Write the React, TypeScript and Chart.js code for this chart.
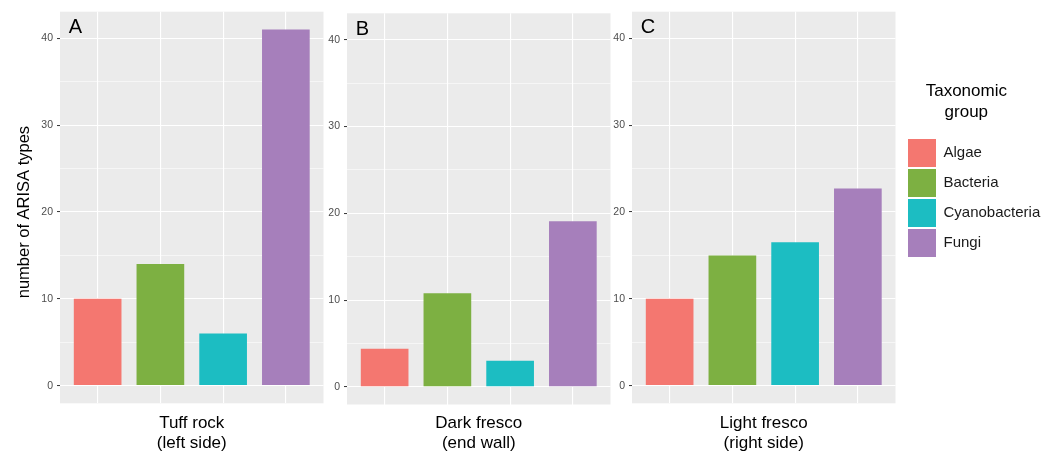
import React, { useEffect, useRef } from 'react';
import { Chart, registerables } from 'chart.js';

Chart.register(...registerables);

// ---------- data ----------
const groups = ['Algae', 'Bacteria', 'Cyanobacteria', 'Fungi'];
const groupColors = ['#F47770', '#7DB042', '#1CBDC2', '#A67FBB'];
const panelLetters = ['A', 'B', 'C'];
const siteLabels = [
  ['Tuff rock', '(left side)'],
  ['Dark fresco', '(end wall)'],
  ['Light fresco', '(right side)'],
];
const tuffRock = [10, 14, 6, 41];
const darkFresco = [4.4, 10.8, 3, 19.1];
const lightFresco = [10, 15, 16.5, 22.7];
const yMajorTicks = [0, 10, 20, 30, 40];
const yMinorTicks = [5, 15, 25, 35];
const yTitle = 'number of ARISA types';
const legendTitle = ['Taxonomic', 'group'];

const FONT = "'Liberation Sans', Arial, Helvetica, sans-serif";

const panelBg = {
  id: 'panelBg',
  beforeDraw(chart: any) {
    const { ctx, chartArea: a } = chart;
    ctx.save();
    ctx.fillStyle = '#EBEBEB';
    ctx.fillRect(a.left, a.top, a.right - a.left, a.bottom - a.top);
    ctx.restore();
  },
};

const panelLetter = {
  id: 'panelLetter',
  afterDraw(chart: any, _args: any, opts: any) {
    if (!opts || !opts.text) return;
    const { ctx, chartArea: a } = chart;
    ctx.save();
    ctx.fillStyle = '#000';
    ctx.font = `20px ${FONT}`;
    ctx.textAlign = 'left';
    ctx.textBaseline = 'alphabetic';
    ctx.fillText(opts.text, a.left + 8.8, a.top + 21.4);
    ctx.restore();
  },
};

type PanelProps = {
  idx: number;
  values: number[];
  left: number;
  width: number;
  padTop: number;
  xAxisHeight: number;
  showYTitle: boolean;
};

function Panel({ idx, values, left, width, padTop, xAxisHeight, showYTitle }: PanelProps) {
  const ref = useRef<HTMLCanvasElement>(null);
  useEffect(() => {
    if (!ref.current) return;
    const chart = new Chart(ref.current, {
      type: 'bar',
      data: {
        datasets: [
          {
            data: values.map((v, i) => ({ x: i, y: v })),
            backgroundColor: groupColors,
            borderWidth: 0,
            barPercentage: 0.76,
            categoryPercentage: 1,
          } as any,
        ],
      },
      options: {
        animation: false,
        responsive: false,
        maintainAspectRatio: false,
        layout: { padding: { top: padTop, right: 0.5, bottom: 0, left: 0 } },
        plugins: {
          legend: { display: false },
          tooltip: { enabled: false },
          panelLetter: { text: panelLetters[idx] },
        } as any,
        scales: {
          x: {
            type: 'linear',
            min: -0.6,
            max: 3.6,
            offset: false,
            afterBuildTicks: (s: any) => {
              s.ticks = groups.map((_, i) => ({ value: i }));
            },
            afterFit: (s: any) => {
              s.height = xAxisHeight;
            },
            ticks: { display: false },
            grid: { color: '#FFFFFF', lineWidth: 1.1, drawTicks: false, offset: false },
            border: { display: false },
            title: {
              display: true,
              text: siteLabels[idx],
              color: '#000',
              font: { family: FONT, size: 17, lineHeight: 1.22 },
              padding: { top: 0, bottom: -1 },
            },
          },
          y: {
            type: 'linear',
            min: -2.03,
            max: 43.06,
            afterBuildTicks: (s: any) => {
              s.ticks = [...yMajorTicks, ...yMinorTicks]
                .sort((a, b) => a - b)
                .map((v) => ({ value: v }));
            },
            afterFit: (s: any) => {
              s.width = 60;
            },
            ticks: {
              autoSkip: false,
              padding: 4,
              color: '#4D4D4D',
              font: { family: FONT, size: 10.5 },
              callback: (v: any) => (yMajorTicks.includes(Number(v)) ? String(v) : ''),
            },
            grid: {
              color: '#FFFFFF',
              lineWidth: (c: any) => (yMajorTicks.includes(c.tick?.value) ? 1.1 : 0.55),
              tickLength: 3,
              tickWidth: 1,
              tickColor: (c: any) =>
                yMajorTicks.includes(c.tick?.value) ? '#333333' : 'rgba(0,0,0,0)',
            },
            border: { display: false },
            title: {
              display: showYTitle,
              text: yTitle + '  ',
              color: '#000',
              font: { family: FONT, size: 16.5, lineHeight: 1.2 },
              padding: { top: 14.8, bottom: 0 },
            },
          },
        } as any,
      },
      plugins: [panelBg, panelLetter],
    });
    return () => chart.destroy();
  }, []);
  return (
    <canvas
      ref={ref}
      width={width}
      height={453}
      style={{ position: 'absolute', left, top: 0, width, height: 453 }}
    />
  );
}

function LegendBox() {
  const ref = useRef<HTMLCanvasElement>(null);
  useEffect(() => {
    if (!ref.current) return;
    const chart = new Chart(ref.current, {
      type: 'bar',
      data: {
        labels: [],
        datasets: groups.map((g, i) => ({
          label: g,
          data: [],
          backgroundColor: groupColors[i],
          borderWidth: 0,
        })),
      },
      options: {
        animation: false,
        responsive: false,
        maintainAspectRatio: false,
        layout: { padding: 0 },
        scales: { x: { display: false }, y: { display: false } },
        plugins: {
          tooltip: { enabled: false },
          legend: {
            display: true,
            position: 'left',
            align: 'start',
            onClick: () => {},
            labels: {
              boxWidth: 28,
              boxHeight: 28,
              padding: 2,
              color: '#1A1A1A',
              font: { family: FONT, size: 15 },
            },
            title: {
              display: true,
              // trailing spaces shift the centred title to sit over the swatches like the original
              text: legendTitle.map((t) => t + '     '),
              color: '#000',
              position: 'center',
              font: { family: FONT, size: 17, lineHeight: 1.22 },
              padding: { top: 83.2, bottom: 33.1 },
            },
          },
        } as any,
      },
    });
    return () => chart.destroy();
  }, []);
  return (
    <canvas
      ref={ref}
      width={340}
      height={453}
      style={{ position: 'absolute', left: 906, top: 0, width: 340, height: 453 }}
    />
  );
}

export default function App() {
  useEffect(() => {
    document.body.style.margin = '0';
  }, []);
  return (
    <div
      style={{
        position: 'fixed',
        left: 0,
        top: 0,
        width: 1061,
        height: 453,
        overflow: 'hidden',
        background: '#FFFFFF',
      }}
    >
      <Panel idx={0} values={tuffRock} left={0} width={324} padTop={11.7} xAxisHeight={49.7} showYTitle={true} />
      <Panel idx={1} values={darkFresco} left={287} width={324} padTop={13.3} xAxisHeight={48.5} showYTitle={false} />
      <Panel idx={2} values={lightFresco} left={572} width={324} padTop={11.7} xAxisHeight={49.7} showYTitle={false} />
      <LegendBox />
    </div>
  );
}
